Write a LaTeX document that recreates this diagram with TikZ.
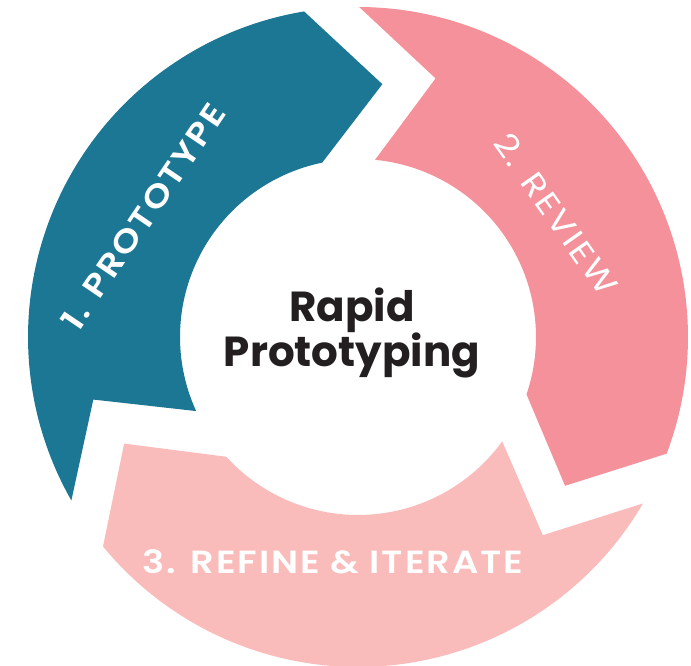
\documentclass[tikz,border=0pt]{standalone}
\usepackage{fontspec}
\setmainfont{Poppins}
\newfontfamily\stagefont{Poppins SemiBold}[FakeStretch=1.15,LetterSpace=6]
\newfontfamily\stagelightfont{Poppins}[FakeStretch=1.15,LetterSpace=7]
\definecolor{protoblue}{HTML}{1B7794}
\definecolor{reviewpink}{HTML}{F4919A}
\definecolor{refinepink}{HTML}{F9BCBA}
\definecolor{inkblack}{HTML}{231F20}
\begin{document}
\begin{tikzpicture}[x=1pt,y=1pt,
  stagelabel/.style={text=white,inner sep=0pt,font=\stagefont\fontsize{32}{32}\selectfont},
  stagelight/.style={text=white,inner sep=0pt,font=\stagelightfont\fontsize{32}{32}\selectfont},
  centerlabel/.style={text=inkblack,inner sep=0pt,font=\fontsize{42}{42}\selectfont\bfseries}]
\useasboundingbox (0,0) rectangle (691,666);
\begin{scope}[shift={(358,329)}]
  % 1. Prototype band (left), head pointing clockwise at the top
  \fill[protoblue] (99.4:330) -- (84.5:254) -- (101.6:178)
    arc[start angle=101.6,end angle=204.6,radius=178]
    -- (193.3:272) -- (209.7:330)
    arc[start angle=209.7,end angle=99.4,radius=330] -- cycle;
  % 2. Review band (right)
  \fill[reviewpink] (89.8:330) -- (73.3:270) -- (84.5:178)
    arc[start angle=84.5,end angle=-18.8,radius=178]
    -- (-35.7:255) -- (-20.7:330)
    arc[start angle=-20.7,end angle=89.8,radius=330] -- cycle;
  % 3. Refine & iterate band (bottom)
  \fill[refinepink] (-35.9:178) -- (-47:271) -- (-30.3:330)
    arc[start angle=-30.3,end angle=-140.6,radius=330]
    -- (204.5:257) -- (222.3:178)
    arc[start angle=222.3,end angle=324.1,radius=178] -- cycle;
\end{scope}
\node[stagelabel,rotate=55.9] (proto) at (143,449.5) {1. PROTOTYPE};
\node[stagelight,rotate=-54.7] (review) at (556,452) {2. REVIEW};
\node[stagelabel,anchor=base] (refine) at (333,92.7) {3. REFINE \& ITERATE};
\node[centerlabel,anchor=base] (rapid) at (352,344.3) {Rapid};
\node[centerlabel,anchor=base] (prototyping) at (352,299) {Prototyping};
\end{tikzpicture}
\end{document}
